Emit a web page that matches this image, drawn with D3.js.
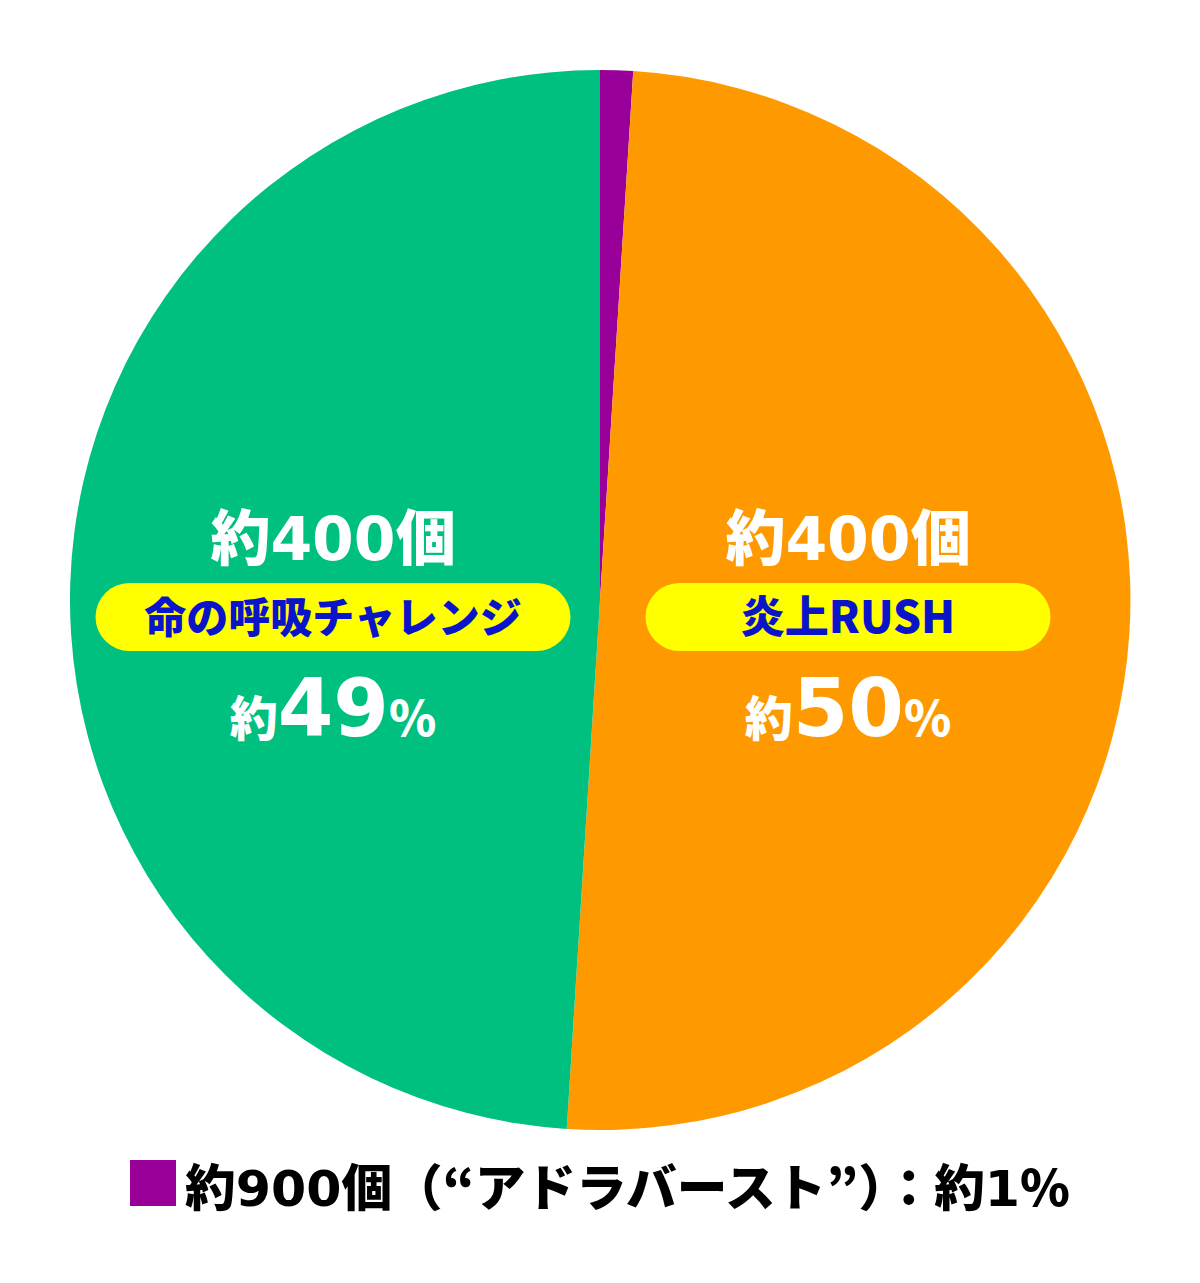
<!DOCTYPE html>
<html><head><meta charset="utf-8">
<script src="https://cdn.jsdelivr.net/npm/d3@7"></script>
<style>body{margin:0;background:#fff}text{font-family:"Noto Sans CJK JP",sans-serif;font-weight:900}.num{font-family:"DejaVu Sans",sans-serif;font-weight:bold}</style>
</head><body>
<svg id="c" width="1200" height="1283"></svg>
<script>
const names = ["アドラバースト","炎上RUSH","命の呼吸チャレンジ"];
const values = [1, 50, 49];
const colors = ["#990099","#ff9900","#00c07f"];
const countNums = ["900","400","400"];
const pcts = ["1","50","49"];

const svg = d3.select("#c");
const cx=600, cy=600, R=530;
const pie = d3.pie().sort(null).value(d=>d)(values);
const arc = d3.arc().innerRadius(0).outerRadius(R);
const g = svg.append("g").attr("transform",`translate(${cx},${cy})`);
g.selectAll("path").data(pie).join("path").attr("d",arc).attr("fill",(d,i)=>colors[i]);

const lx = {1: 848, 2: 333};
[1,2].forEach(i=>{
  const x = lx[i];
  const c = svg.append("text").attr("x",x).attr("y",560).attr("text-anchor","middle")
    .attr("fill","#fff").attr("font-size",60);
  c.append("tspan").text("約");
  c.append("tspan").attr("class","num").text(countNums[i]);
  c.append("tspan").text("個");
  const w = i===1 ? 405 : 475;
  svg.append("rect").attr("x",x-w/2).attr("y",583).attr("width",w).attr("height",68)
    .attr("rx",34).attr("fill","#ffff00");
  svg.append("text").attr("x",x).attr("y",633).attr("text-anchor","middle")
    .attr("fill","#0a14c8").attr("font-size",i===1?44:42).text(names[i]);
  const t = svg.append("text").attr("x",x).attr("y",736).attr("text-anchor","middle").attr("fill","#fff");
  t.append("tspan").attr("font-size",48).text("約");
  t.append("tspan").attr("class","num").attr("font-size",80).text(pcts[i]);
  t.append("tspan").attr("font-size",48).text("%");
});

svg.append("rect").attr("x",130).attr("y",1160).attr("width",46).attr("height",46).attr("fill",colors[0]);
const L = svg.append("text").attr("x",185).attr("y",1206).attr("font-size",50).attr("fill","#000")
  .attr("textLength",885).attr("lengthAdjust","spacingAndGlyphs");
L.append("tspan").text("約");
L.append("tspan").attr("class","num").text(countNums[0]);
L.append("tspan").text(`個（“${names[0]}”）：約`);
L.append("tspan").attr("class","num").text(pcts[0]);
L.append("tspan").text("%");
</script></body></html>
